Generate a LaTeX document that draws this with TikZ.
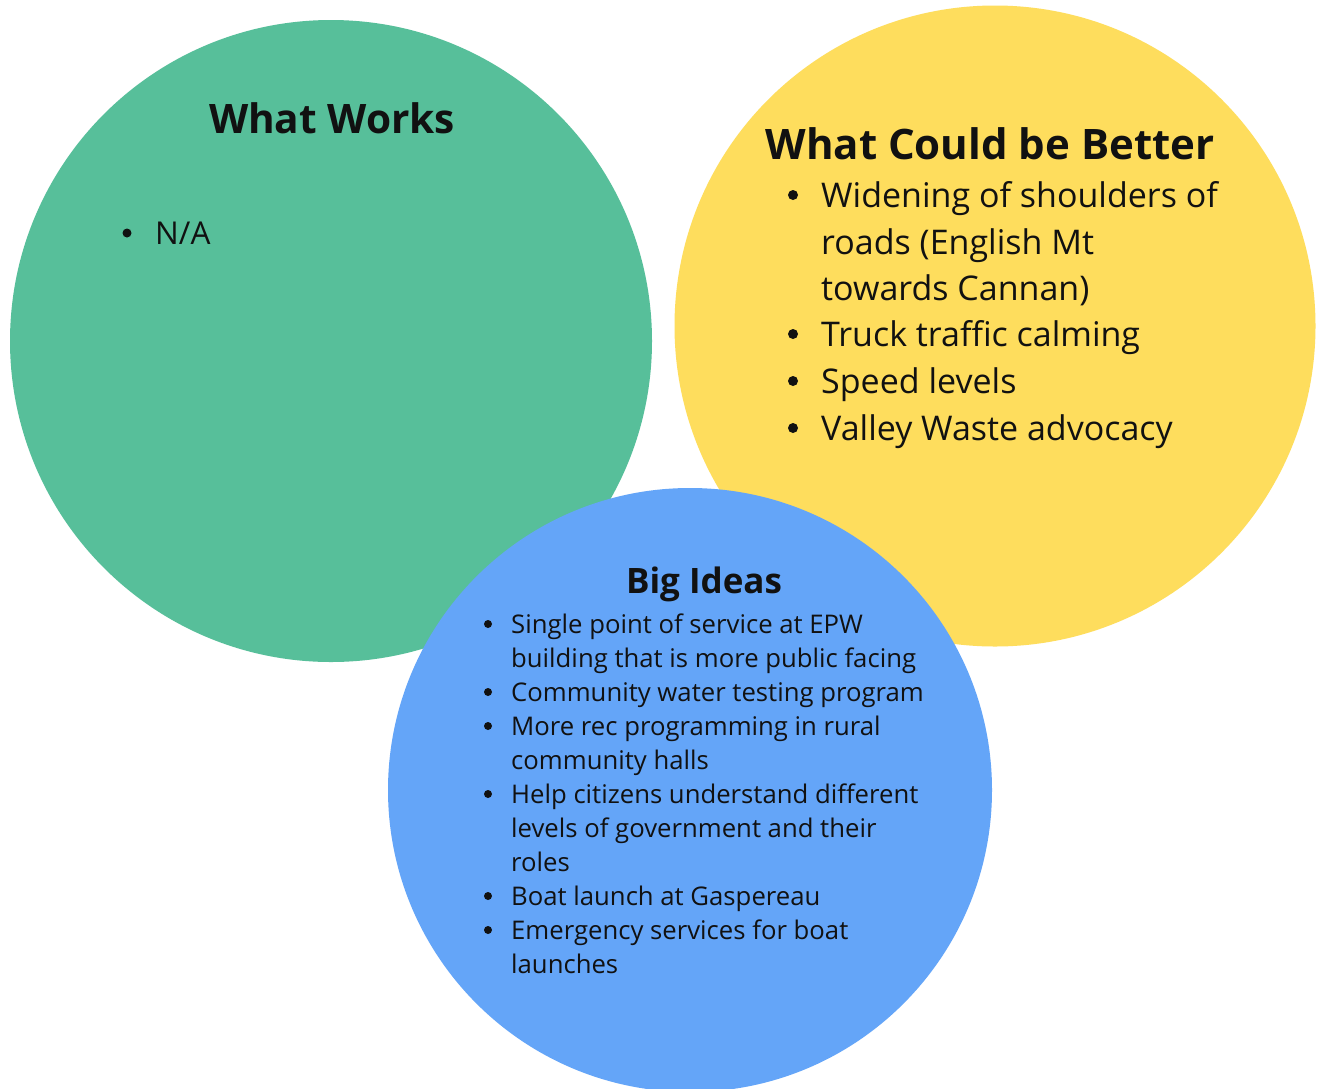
\documentclass[tikz,border=0pt]{standalone}
\usepackage{fontspec}
\setmainfont{Open Sans}
\definecolor{cgreen}{HTML}{57BF9A}
\definecolor{cyellow}{HTML}{FEDD5D}
\definecolor{cblue}{HTML}{64A5F8}
\definecolor{ink}{HTML}{111111}
\begin{document}
\begin{tikzpicture}[x=1pt,y=-1pt,
  circ/.style={circle,draw=none,inner sep=0pt},
  ttl/.style={anchor=base,text=ink,font=\bfseries\fontsize{#1}{#1}\selectfont,inner sep=0pt},
  itm/.style={anchor=base west,text=ink,font=\fontsize{#1}{#1}\selectfont,inner sep=0pt},
  bul/.style={circle,fill=ink,inner sep=0pt,minimum size=#1}]
\useasboundingbox (0,0) rectangle (1317,1088);
\fill[white] (0,0) rectangle (1317,1088);
\node[circ,fill=cgreen,minimum size=642] (g) at (331,341) {};
\node[circ,fill=cyellow,minimum size=641] (y) at (995,326) {};
\node[circ,fill=cblue,minimum size=604] (b) at (690,790) {};
% green
\node[ttl=40.6] (gt) at (332,133) {What Works};
\node[bul=9] (gb1) at (127,233) {};
\node[itm=31.5] (g1) at (155,244) {N/A};
% yellow
\node[ttl=42] (yt) at (990,159) {What Could be Better};
\foreach \yy/\t/\bb in {207/{Widening of shoulders of}/1,254/{roads (English Mt}/0,300/{towards Cannan)}/0,346/{Truck traffic calming}/1,393/{Speed levels}/1,440/{Valley Waste advocacy}/1}{
  \node[itm=34] (yl\yy) at (821,\yy) {\t};
  \ifnum\bb=1 \node[bul=10] (yb\yy) at (793,\yy-12) {};\fi
}
% blue
\node[ttl=35] (bt) at (704,593) {Big Ideas};
\foreach \yy/\t/\bb in {633/{Single point of service at EPW}/1,667/{building that is more public facing}/0,701/{Community water testing program}/1,735/{More rec programming in rural}/1,769/{community halls}/0,803/{Help citizens understand different}/1,837/{levels of government and their}/0,871/{roles}/0,905/{Boat launch at Gaspereau}/1,939/{Emergency services for boat}/1,973/{launches}/0}{
  \node[itm=25.7] (bl\yy) at (511,\yy) {\t};
  \ifnum\bb=1 \node[bul=8] (bb\yy) at (488,\yy-9) {};\fi
}
\end{tikzpicture}
\end{document}
